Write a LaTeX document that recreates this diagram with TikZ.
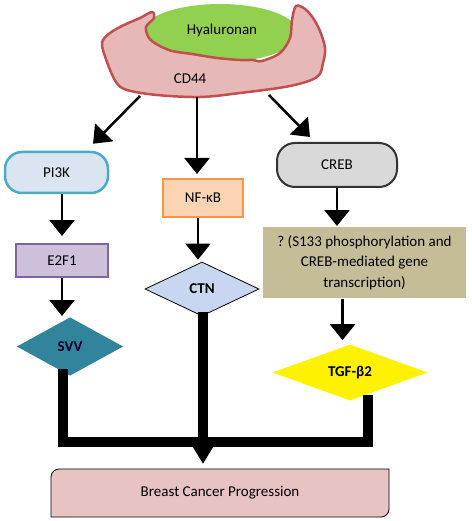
\documentclass[tikz,border=0pt]{standalone}
\usepackage{fontspec}
\setmainfont{Carlito}
\usetikzlibrary{shapes.geometric,arrows.meta}
\definecolor{cdpink}{HTML}{E6B9B8}
\definecolor{cdred}{HTML}{C0504D}
\definecolor{hygreen}{HTML}{92D050}
\definecolor{pifill}{HTML}{DBE5F1}
\definecolor{piline}{HTML}{4BACC6}
\definecolor{effill}{HTML}{CCC0DA}
\definecolor{efline}{HTML}{8064A2}
\definecolor{svvfill}{HTML}{31849B}
\definecolor{nffill}{HTML}{FBD4B4}
\definecolor{nfline}{HTML}{F79646}
\definecolor{ctnfill}{HTML}{C9D6F2}
\definecolor{crfill}{HTML}{D9D9D9}
\definecolor{qfill}{HTML}{C4BD97}
\definecolor{bcfill}{HTML}{E8C3C3}
\frenchspacing
\begin{document}
\begin{tikzpicture}[x=1pt, y=-1pt, line width=2pt, font=\fontsize{15}{20.5}\selectfont,
		arr/.style={-{Triangle[width=25pt,length=16pt]}, line width=2.5pt},
		bar/.style={line width=9.5pt, line join=miter},
		box/.style={rectangle, inner sep=0pt, align=center},
		dia/.style={diamond, inner sep=0pt, font=\fontsize{15}{20}\selectfont\bfseries}]
	\useasboundingbox (0,0) rectangle (471,521);
	\filldraw[hygreen] (220,33) ellipse [x radius=77, y radius=28];
	\filldraw[fill=cdpink, draw=cdred, line width=2.5pt] plot[smooth cycle, tension=0.55] coordinates {(102,43) (110,33) (124,25) (140,18) (152,12) (154,18) (146,27) (149,38) (158,45) (172,51) (192,54) (217,58) (240,60) (253,60) (262,61) (280,53) (290,38) (292,20) (296,6) (305,9) (313,18) (320,31) (325,48) (323,63) (317,77) (290,86) (240,93) (200,97) (157,95) (127,90) (116,82) (107,62)};
	\node (hya) at (222,31) {Hyaluronan};
	\node (cd) at (190,79) {CD44};
	\coordinate (cdl) at (140,96);
	\coordinate (cdm) at (197,97);
	\coordinate (cdr) at (269,95);
	\node[box, rounded corners=17pt, fill=pifill, draw=piline, line width=2.5pt, minimum width=103pt, minimum height=41pt] (pik) at (56.5,172.5) {PI3K};
	\node[box, fill=effill, draw=efline, minimum width=92pt, minimum height=33pt] (e2f) at (62,260.5) {E2F1};
	\node[dia, fill=svvfill, text=black!85!blue, minimum width=107pt, minimum height=59pt] (svv) at (70,346.5) {SVV};
	\node[box, fill=nffill, draw=nfline, minimum width=80pt, minimum height=38pt] (nfk) at (203,198) {NF-κB};
	\node[dia, fill=ctnfill, draw=black, line width=0.8pt, minimum width=114pt, minimum height=54pt] (ctn) at (202,289) {CTN};
	\node[box, rounded corners=18pt, fill=crfill, draw=black!80, minimum width=120pt, minimum height=44pt] (creb) at (337,165) {CREB};
	\node[box, fill=qfill, minimum width=203pt, minimum height=71pt] (q) at (364.5,262.5) {? (S133 phosphorylation and\\CREB-mediated gene\\transcription)};
	\node[dia, fill=yellow, minimum width=156pt, minimum height=55pt] (tgf) at (350,372.5) {TGF-β2};
	\filldraw[fill=bcfill, draw=black, line width=0.8pt] (51,517) -- (51,477) arc[start angle=180, end angle=90, radius=8pt] -- (389,469) -- (389,509) arc[start angle=0, end angle=-90, radius=8pt] -- cycle;
	\node[box, minimum width=338pt, minimum height=48pt] (bcp) at (220,493) {Breast Cancer Progression};
	\draw[arr] (cdl) -- ([xshift=36.5pt,yshift=7pt]pik.north);
	\draw[arr, shorten >=4pt] (cdm) -- (cdm |- nfk.north);
	\draw[arr] (cdr) -- ([xshift=-27pt,yshift=5pt]creb.north);
	\draw[arr, shorten >=7pt] (pik.south -| e2f.south) -- (e2f.north);
	\draw[arr] (e2f.south) -- (e2f.south |- svv.north);
	\draw[arr, shorten >=2pt] ([xshift=-5pt]nfk.south) -- ([xshift=-5pt]nfk.south |- ctn.north);
	\draw[arr] (creb.south) -- (creb.south |- q.north);
	\draw[arr, shorten >=3pt] ([xshift=-22pt]q.south) -- ([xshift=-22pt]q.south |- tgf.north);
	\coordinate (jn) at (203,442);
	\draw[bar] ([xshift=-7pt,yshift=8pt]svv.south) |- (jn) -| ([xshift=18pt,yshift=7pt]tgf.south);
	\draw[bar, -{Triangle[width=20pt,length=18pt]}, shorten >=4pt] ([xshift=1pt,yshift=4pt]ctn.south) -- ([xshift=1pt]ctn.south |- bcp.north);
\end{tikzpicture}
\end{document}
